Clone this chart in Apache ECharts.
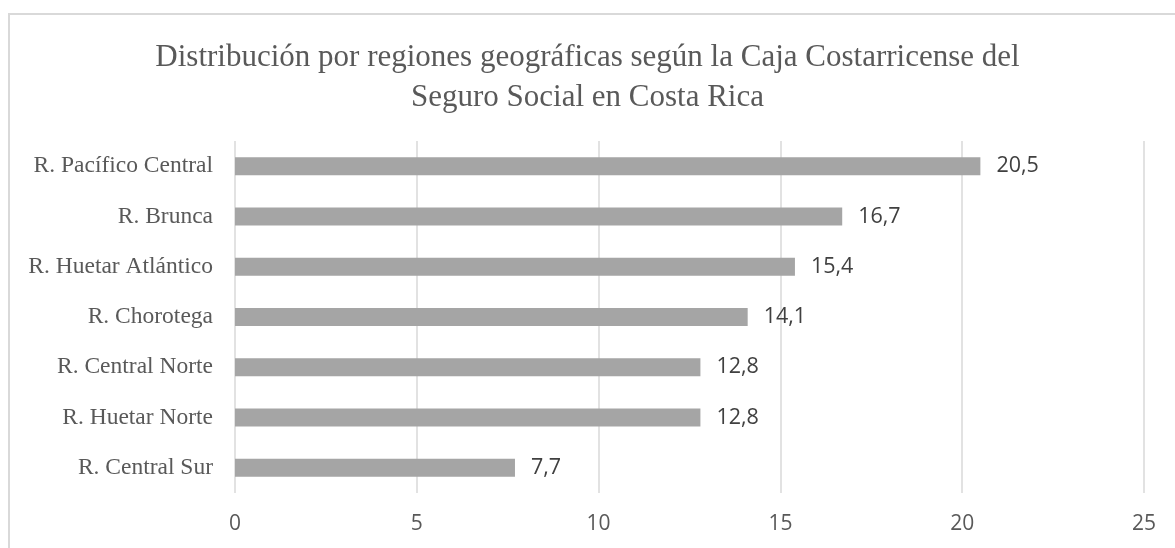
<!DOCTYPE html>
<html>
<head>
<meta charset="utf-8">
<script src="https://cdn.jsdelivr.net/npm/echarts@6/dist/echarts.min.js"></script>
<style>
  html, body { margin: 0; padding: 0; background: #fff; }
  #frame { position: absolute; left: 8px; top: 13px; width: 1200px; height: 600px; border: 2px solid #d9d9d9; box-sizing: border-box; }
  #chart { position: absolute; left: 0; top: 0; width: 1175px; height: 548px; }
</style>
</head>
<body>
<div id="frame"></div>
<div id="chart"></div>
<script>
const titleText = 'Distribución por regiones geográficas según la Caja Costarricense del\nSeguro Social en Costa Rica';
const categories = ['R. Pacífico Central', 'R. Brunca', 'R. Huetar Atlántico', 'R. Chorotega', 'R. Central Norte', 'R. Huetar Norte', 'R. Central Sur'];
const values = [20.5, 16.7, 15.4, 14.1, 12.8, 12.8, 7.7];
const xTicks = [0, 5, 10, 15, 20, 25];

const chart = echarts.init(document.getElementById('chart'), null, { renderer: 'canvas' });
chart.setOption({
  backgroundColor: 'transparent',
  animation: false,
  title: {
    text: titleText,
    left: 'center',
    top: 33,
    textStyle: {
      fontFamily: 'Liberation Serif',
      fontSize: 31,
      fontWeight: 'normal',
      color: '#595959',
      lineHeight: 40
    }
  },
  grid: { left: 235, right: 31, top: 141, bottom: 55, containLabel: false },
  xAxis: {
    type: 'value',
    min: xTicks[0],
    max: xTicks[xTicks.length - 1],
    interval: 5,
    axisLine: { show: false },
    axisTick: { show: false },
    splitLine: { show: true, lineStyle: { color: '#d9d9d9', width: 1.5 } },
    axisLabel: {
      margin: 21,
      fontFamily: 'Open Sans',
      fontSize: 21,
      color: '#595959'
    }
  },
  yAxis: {
    type: 'category',
    data: categories,
    inverse: true,
    axisLine: { show: false },
    axisTick: { show: false },
    splitLine: { show: false },
    axisLabel: {
      margin: 22,
      fontFamily: 'Liberation Serif',
      fontSize: 23.5,
      color: '#595959'
    }
  },
  series: [{
    type: 'bar',
    data: values,
    barWidth: 18,
    itemStyle: { color: '#a5a5a5' },
    label: {
      show: true,
      position: 'right',
      distance: 16,
      fontFamily: 'Open Sans',
      fontSize: 21.5,
      color: '#404040',
      formatter: p => String(p.value).replace('.', ',')
    }
  }]
});
</script>
</body>
</html>
